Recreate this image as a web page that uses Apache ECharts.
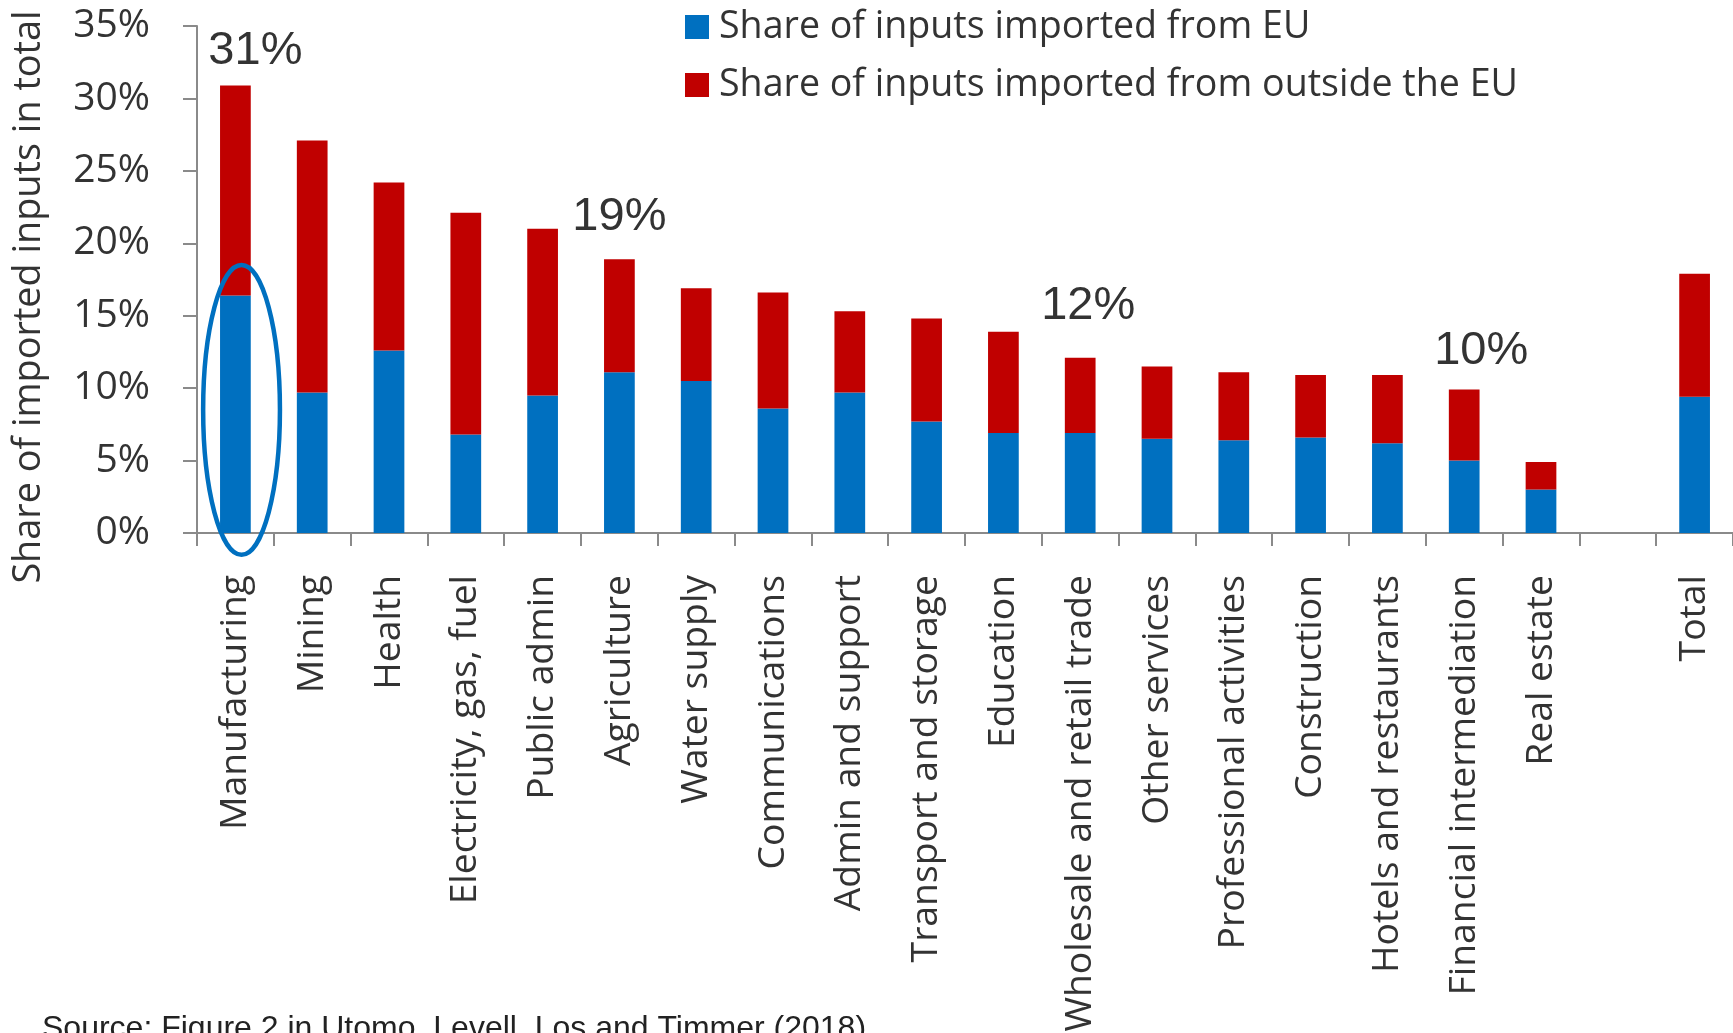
<!DOCTYPE html>
<html>
<head>
<meta charset="utf-8">
<script src="https://cdn.jsdelivr.net/npm/echarts@6/dist/echarts.min.js"></script>
<style>
  html, body { margin: 0; padding: 0; background: #ffffff; }
  #chart { width: 1733px; height: 1033px; }
</style>
</head>
<body>
<div id="chart"></div>
<script>
// Sectors, ordered by total imported-input share; an empty slot separates "Total"
const sectors = [
  'Manufacturing', 'Mining', 'Health', 'Electricity, gas, fuel', 'Public admin',
  'Agriculture', 'Water supply', 'Communications', 'Admin and support',
  'Transport and storage', 'Education', 'Wholesale and retail trade',
  'Other services', 'Professional activities', 'Construction',
  'Hotels and restaurants', 'Financial intermediation', 'Real estate', '', 'Total'
];

// Share of inputs imported from the EU (% of total inputs)
const shareEU = [16.4, 9.7, 12.6, 6.8, 9.5, 11.1, 10.5, 8.6, 9.7, 7.7, 6.9, 6.9, 6.5, 6.4, 6.6, 6.2, 5.0, 3.0, null, 9.4];

// Share of inputs imported from outside the EU (% of total inputs)
const shareNonEU = [14.5, 17.4, 11.6, 15.3, 11.5, 7.8, 6.4, 8.0, 5.6, 7.1, 7.0, 5.2, 5.0, 4.7, 4.3, 4.7, 4.9, 1.9, null, 8.5];

// Value-axis ticks
const yTicks = { min: 0, max: 35, step: 5 };

// Sectors whose total share is called out above the bar
const callouts = ['Manufacturing', 'Agriculture', 'Wholesale and retail trade', 'Financial intermediation'];

const seriesNames = ['Share of inputs imported from EU', 'Share of inputs imported from outside the EU'];

const BLUE = '#0070C0';
const RED = '#C00000';
const TEXT = '#333333';
const AXIS = '#8a8a8a';
const UI_FONT = '"Open Sans", "Noto Sans", sans-serif';
const NOTE_FONT = '"Liberation Sans", Arial, sans-serif';

// horizontal / vertical nudges of each callout label
const calloutOffset = {
  'Manufacturing': [20, -11],
  'Agriculture': [0, -19],
  'Wholesale and retail trade': [8, -28],
  'Financial intermediation': [17, -15]
};

const chart = echarts.init(document.getElementById('chart'), null, { renderer: 'canvas' });

const outsideData = shareNonEU.map((v, i) => {
  const name = sectors[i];
  if (callouts.indexOf(name) < 0) return v;
  return {
    value: v,
    label: {
      show: true,
      position: 'top',
      distance: 0,
      offset: calloutOffset[name],
      fontFamily: NOTE_FONT,
      fontSize: 47,
      color: TEXT,
      formatter: () => Math.round(shareEU[i] + shareNonEU[i]) + '%'
    }
  };
});

const option = {
  backgroundColor: '#ffffff',
  animation: false,
  grid: { left: 197, right: 0, top: 26, bottom: 500, outerBoundsMode: 'none' },
  legend: {
    data: seriesNames,
    orient: 'vertical',
    left: 685,
    top: 8,
    itemWidth: 24,
    itemHeight: 24,
    itemGap: 20,
    icon: 'rect',
    padding: 0,
    textStyle: { fontFamily: UI_FONT, fontSize: 37.6, color: TEXT, padding: [0, 0, 0, 5] }
  },
  xAxis: {
    type: 'category',
    data: sectors,
    axisLine: { show: true, lineStyle: { color: AXIS, width: 2 } },
    axisTick: { show: true, length: 13, lineStyle: { color: AXIS, width: 2 } },
    axisLabel: {
      interval: 0,
      rotate: 90,
      margin: 42,
      fontFamily: UI_FONT,
      fontSize: 37.3,
      color: TEXT
    },
    splitLine: { show: false }
  },
  yAxis: {
    type: 'value',
    min: yTicks.min,
    max: yTicks.max,
    interval: yTicks.step,
    axisLine: { show: true, lineStyle: { color: AXIS, width: 2 } },
    axisTick: { show: true, length: 14, lineStyle: { color: AXIS, width: 2 } },
    axisLabel: {
      margin: 47,
      formatter: '{value}%',
      fontFamily: UI_FONT,
      fontSize: 39,
      color: TEXT
    },
    splitLine: { show: false }
  },
  series: [
    {
      name: seriesNames[0],
      type: 'bar',
      stack: 'imports',
      barWidth: '40%',
      itemStyle: { color: BLUE },
      data: shareEU
    },
    {
      name: seriesNames[1],
      type: 'bar',
      stack: 'imports',
      barWidth: '40%',
      itemStyle: { color: RED },
      data: outsideData
    }
  ]
};

chart.setOption(option);

// Ellipse highlighting the EU share of Manufacturing, placed through the axes
const ringSpan = { low: -1.5, high: 18.5, halfWidth: 0.5, shift: 0.08 };
const catWidth = chart.convertToPixel({ xAxisIndex: 0 }, sectors[1]) - chart.convertToPixel({ xAxisIndex: 0 }, sectors[0]);
const ringX = chart.convertToPixel({ xAxisIndex: 0 }, sectors[0]) + ringSpan.shift * catWidth;
const ringTop = chart.convertToPixel({ yAxisIndex: 0 }, ringSpan.high);
const ringBottom = chart.convertToPixel({ yAxisIndex: 0 }, ringSpan.low);

chart.setOption({
  graphic: [
    {
      type: 'ellipse',
      shape: {
        cx: ringX,
        cy: (ringTop + ringBottom) / 2,
        rx: ringSpan.halfWidth * catWidth,
        ry: (ringBottom - ringTop) / 2
      },
      style: { fill: 'none', stroke: BLUE, lineWidth: 4.5 },
      z: 100
    },
    {
      type: 'text',
      x: 29,
      y: 297,
      rotation: Math.PI / 2,
      style: {
        text: 'Share of imported inputs in total',
        font: '37.8px ' + UI_FONT,
        fill: TEXT,
        align: 'center',
        verticalAlign: 'middle'
      }
    },
    {
      type: 'text',
      x: 42,
      y: 1013,
      style: {
        text: 'Source: Figure 2 in Utomo, Levell, Los and Timmer (2018)',
        font: '32px ' + NOTE_FONT,
        fill: '#222222',
        align: 'left',
        verticalAlign: 'top'
      }
    }
  ]
});
</script>
</body>
</html>
